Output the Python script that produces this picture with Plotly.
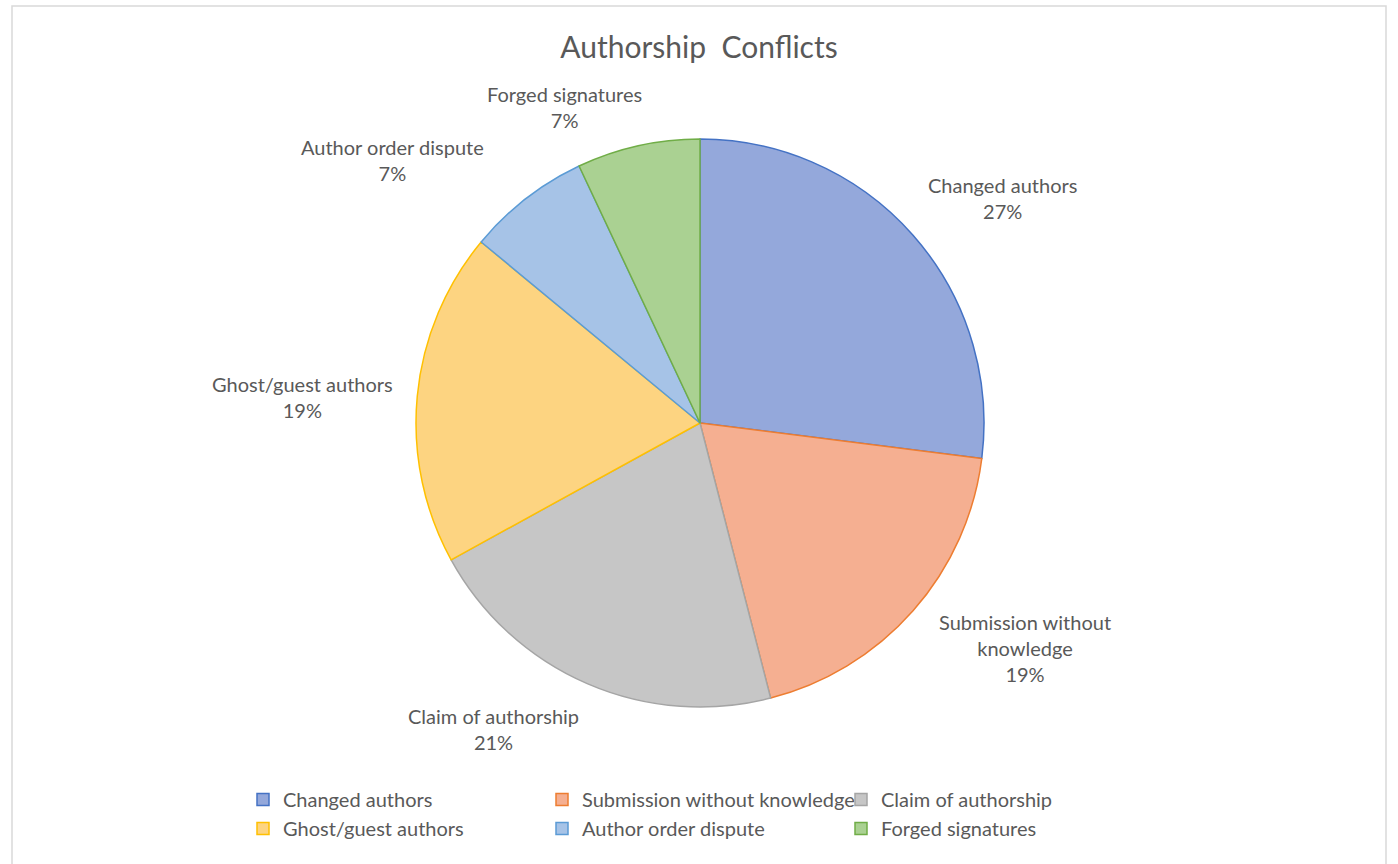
import plotly.graph_objects as go

categories = ["Changed authors", "Submission without knowledge", "Claim of authorship",
              "Ghost/guest authors", "Author order dispute", "Forged signatures"]
values = [27, 19, 21, 19, 7, 7]
label_text = ["Changed authors", "Submission without<br>knowledge", "Claim of authorship",
              "Ghost/guest authors", "Author order dispute", "Forged signatures"]

fill_colors = ["#94A8DB", "#F5AF91", "#C6C6C6", "#FDD481", "#A6C3E7", "#AAD192"]
line_colors = ["#4472C4", "#ED7D31", "#A5A5A5", "#FFC000", "#5B9BD5", "#70AD47"]

W, H = 1398, 864
FONT = "Lato"
GRAY = "#595959"

# plot area (pixels) chosen so the legend wraps after three entries
L, GW = 238, 920
R = W - L - GW


def px(x):
    return (x - L) / GW


def py(y):
    return 1 - y / H


cx, cy, r = 700, 423, 284

fig = go.Figure(go.Pie(
    labels=categories,
    values=values,
    sort=False,
    direction="clockwise",
    rotation=0,
    textinfo="none",
    hoverinfo="label+percent",
    marker=dict(colors=fill_colors, line=dict(color=line_colors, width=1.5)),
    domain=dict(x=[px(cx - r), px(cx + r)], y=[py(cy + r), py(cy - r)]),
))

# label positions (pixel centres) for outside data labels
label_pos = [(1002, 198), (1025, 648), (493, 729), (302, 397), (392, 160), (564, 107)]
total = sum(values)
annotations = []
for txt, v, (lx, ly) in zip(label_text, values, label_pos):
    pct = round(v / total * 100)
    annotations.append(dict(
        text=f"{txt}<br>{pct}%", x=px(lx), y=py(ly), xref="paper", yref="paper",
        showarrow=False, xanchor="center", yanchor="middle", align="center",
        font=dict(family=FONT, size=20, color=GRAY),
    ))

fig.update_layout(
    width=W, height=H,
    margin=dict(l=L, r=R, t=0, b=0, autoexpand=False),
    paper_bgcolor="white",
    plot_bgcolor="white",
    title=dict(text="Authorship  Conflicts", x=0.5, xanchor="center", y=py(47), yanchor="middle",
               font=dict(family=FONT, size=30, color=GRAY)),
    showlegend=True,
    legend=dict(orientation="h", x=px(243), xanchor="left", y=py(780), yanchor="top",
                entrywidth=254, entrywidthmode="pixels", traceorder="normal",
                bgcolor="rgba(0,0,0,0)",
                font=dict(family=FONT, size=20, color=GRAY), itemclick=False),
    annotations=annotations,
    shapes=[dict(type="rect", xref="paper", yref="paper", x0=px(12), x1=px(1386), y0=py(880), y1=py(6),
                 line=dict(color="#D9D9D9", width=1.5), layer="below")],
)

fig.write_html("out.html", config={"displayModeBar": False},
               post_script="document.body.style.margin='0';")
